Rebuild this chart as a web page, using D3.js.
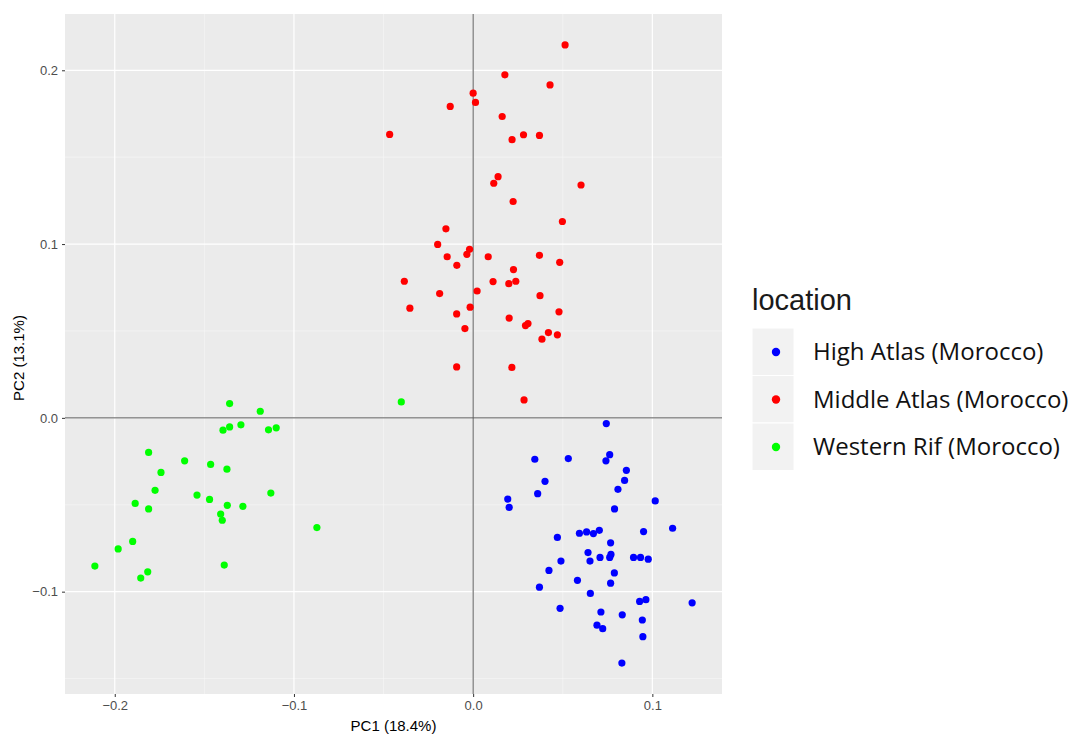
<!DOCTYPE html>
<html>
<head>
<meta charset="utf-8">
<script src="https://cdn.jsdelivr.net/npm/d3@7"></script>
<style>
	body { margin: 0; background: #ffffff; }
</style>
</head>
<body>
<div id="chart"></div>
<script>
// groups in legend order
var groups = ["High Atlas (Morocco)", "Middle Atlas (Morocco)", "Western Rif (Morocco)"];
var groupColors = ["#0000ff", "#ff0000", "#00ff00"];

// PCA scores [PC1, PC2] per group
var highAtlas = [
	[0.0743, -0.0033], [0.0344, -0.0238], [0.0531, -0.0234], [0.0762, -0.0212], [0.0741, -0.0247],
	[0.0855, -0.0302], [0.0845, -0.0360], [0.0401, -0.0365], [0.0360, -0.0436], [0.0808, -0.0411],
	[0.0193, -0.0467], [0.0201, -0.0515], [0.1016, -0.0478], [0.0789, -0.0524], [0.1113, -0.0635],
	[0.0951, -0.0654], [0.0470, -0.0688], [0.0593, -0.0664], [0.0633, -0.0656], [0.0671, -0.0666],
	[0.0704, -0.0647], [0.0767, -0.0719], [0.0641, -0.0775], [0.0490, -0.0824], [0.0652, -0.0824],
	[0.0708, -0.0803], [0.0762, -0.0803], [0.0769, -0.0786], [0.0895, -0.0803], [0.0934, -0.0803],
	[0.0977, -0.0813], [0.0423, -0.0878], [0.0788, -0.0892], [0.0582, -0.0935], [0.0370, -0.0974],
	[0.0767, -0.0951], [0.0654, -0.1010], [0.0929, -0.1056], [0.0964, -0.1046], [0.1222, -0.1064],
	[0.0485, -0.1096], [0.0713, -0.1117], [0.0832, -0.1133], [0.0944, -0.1163], [0.0691, -0.1193],
	[0.0723, -0.1213], [0.0947, -0.1259], [0.0830, -0.1411]
];
var middleAtlas = [
	[0.0513, 0.2146], [0.0177, 0.1974], [0.0429, 0.1916], [0.0000, 0.1868], [0.0013, 0.1815],
	[-0.0128, 0.1792], [0.0162, 0.1734], [-0.0466, 0.1631], [0.0217, 0.1601], [0.0281, 0.1629],
	[0.0370, 0.1625], [0.0139, 0.1388], [0.0115, 0.1350], [0.0602, 0.1340], [0.0223, 0.1245],
	[0.0498, 0.1130], [-0.0152, 0.1088], [-0.0198, 0.0998], [-0.0020, 0.0970], [-0.0035, 0.0941],
	[-0.0145, 0.0927], [0.0084, 0.0927], [0.0370, 0.0935], [0.0483, 0.0895], [-0.0091, 0.0878],
	[0.0225, 0.0853], [-0.0384, 0.0786], [0.0111, 0.0784], [0.0199, 0.0772], [0.0238, 0.0786],
	[-0.0187, 0.0715], [0.0022, 0.0730], [0.0373, 0.0703], [-0.0353, 0.0631], [-0.0017, 0.0637],
	[-0.0092, 0.0598], [0.0201, 0.0574], [0.0479, 0.0610], [-0.0046, 0.0514], [0.0292, 0.0531],
	[0.0306, 0.0543], [0.0420, 0.0491], [0.0470, 0.0478], [0.0384, 0.0453], [-0.0092, 0.0293],
	[0.0216, 0.0290], [0.0284, 0.0103]
];
var westernRif = [
	[-0.0401, 0.0092], [-0.1359, 0.0082], [-0.1188, 0.0038], [-0.1396, -0.0071], [-0.1359, -0.0052],
	[-0.1296, -0.0040], [-0.1142, -0.0069], [-0.1099, -0.0057], [-0.1811, -0.0199], [-0.1610, -0.0247],
	[-0.1465, -0.0268], [-0.1374, -0.0295], [-0.1742, -0.0314], [-0.1775, -0.0417], [-0.1541, -0.0444],
	[-0.1471, -0.0469], [-0.1129, -0.0433], [-0.1886, -0.0492], [-0.1811, -0.0524], [-0.1372, -0.0503],
	[-0.1285, -0.0509], [-0.1409, -0.0553], [-0.1400, -0.0589], [-0.0872, -0.0631], [-0.1900, -0.0711],
	[-0.1981, -0.0754], [-0.2111, -0.0853], [-0.1816, -0.0886], [-0.1855, -0.0922], [-0.1389, -0.0847]
];

var xTicks = [-0.2, -0.1, 0.0, 0.1];
var yTicks = [-0.1, 0.0, 0.1, 0.2];
var xMinor = [-0.15, -0.05, 0.05];
var yMinor = [-0.15, -0.05, 0.05, 0.15];
var xTitle = "PC1 (18.4%)";
var yTitle = "PC2 (13.1%)";
var legendTitle = "location";

var seriesArr = [highAtlas, middleAtlas, westernRif];
var allPts = [];
for (var s = 0; s < seriesArr.length; s++) {
	for (var i = 0; i < seriesArr[s].length; i++) {
		allPts.push({"x": seriesArr[s][i][0], "y": seriesArr[s][i][1], "group": s});
	}
}

var W = 1079, H = 734;
var panel = {left: 65, right: 722, top: 14, bottom: 694};

// ggplot style 5% expansion
function expand(ext) {
	var pad = (ext[1] - ext[0]) * 0.05;
	return [ext[0] - pad, ext[1] + pad];
}
var x = d3.scaleLinear()
	.domain(expand(d3.extent(allPts, d => d.x)))
	.range([panel.left, panel.right]);
var y = d3.scaleLinear()
	.domain(expand(d3.extent(allPts, d => d.y)))
	.range([panel.bottom, panel.top]);
var color = d3.scaleOrdinal().domain(d3.range(groups.length)).range(groupColors);
var fmt = function (v) { return d3.format(".1f")(v).replace("-", "\u2212"); };

var svg = d3.select("#chart").append("svg")
	.attr("width", W)
	.attr("height", H)
	.style("font-family", "'Liberation Sans', Arial, sans-serif");

svg.append("rect")
	.attr("x", panel.left).attr("y", panel.top)
	.attr("width", panel.right - panel.left)
	.attr("height", panel.bottom - panel.top)
	.attr("fill", "#ebebeb");

var grid = svg.append("g");
grid.selectAll(".vminor").data(xMinor).enter().append("line")
	.attr("x1", d => x(d)).attr("x2", d => x(d))
	.attr("y1", panel.top).attr("y2", panel.bottom)
	.attr("stroke", "#f7f7f7").attr("stroke-width", 0.6);
grid.selectAll(".hminor").data(yMinor).enter().append("line")
	.attr("y1", d => y(d)).attr("y2", d => y(d))
	.attr("x1", panel.left).attr("x2", panel.right)
	.attr("stroke", "#f7f7f7").attr("stroke-width", 0.6);
grid.selectAll(".vmajor").data(xTicks).enter().append("line")
	.attr("x1", d => x(d)).attr("x2", d => x(d))
	.attr("y1", panel.top).attr("y2", panel.bottom)
	.attr("stroke", "#ffffff").attr("stroke-width", 1.2);
grid.selectAll(".hmajor").data(yTicks).enter().append("line")
	.attr("y1", d => y(d)).attr("y2", d => y(d))
	.attr("x1", panel.left).attr("x2", panel.right)
	.attr("stroke", "#ffffff").attr("stroke-width", 1.2);

// reference lines at zero
svg.append("line")
	.attr("x1", x(0)).attr("x2", x(0))
	.attr("y1", panel.top).attr("y2", panel.bottom)
	.attr("stroke", "#5a5a5a").attr("stroke-width", 1);
svg.append("line")
	.attr("y1", y(0)).attr("y2", y(0))
	.attr("x1", panel.left).attr("x2", panel.right)
	.attr("stroke", "#5a5a5a").attr("stroke-width", 1);

svg.append("g")
	.selectAll("circle")
	.data(allPts)
	.enter()
	.append("circle")
		.attr("cx", d => x(d.x))
		.attr("cy", d => y(d.y))
		.attr("r", 3.6)
		.attr("fill", d => color(d.group));

// axes
var xAxis = svg.append("g")
	.attr("transform", "translate(0," + panel.bottom + ")")
	.call(d3.axisBottom(x).tickValues(xTicks).tickFormat(fmt).tickSize(3).tickPadding(4));
var yAxis = svg.append("g")
	.attr("transform", "translate(" + panel.left + ",0)")
	.call(d3.axisLeft(y).tickValues(yTicks).tickFormat(fmt).tickSize(3).tickPadding(4));
[xAxis, yAxis].forEach(function (a) {
	a.select(".domain").remove();
	a.selectAll(".tick line").attr("stroke", "#333333");
	a.selectAll(".tick text")
		.attr("fill", "#4d4d4d")
		.attr("font-size", "13px")
		.attr("font-family", "'Liberation Sans', Arial, sans-serif");
});

svg.append("text")
	.attr("x", (panel.left + panel.right) / 2)
	.attr("y", 731)
	.attr("text-anchor", "middle")
	.attr("font-size", "15px")
	.attr("fill", "#000000")
	.text(xTitle);
svg.append("text")
	.attr("transform", "translate(24," + ((panel.top + panel.bottom) / 2 + 4) + ") rotate(-90)")
	.attr("text-anchor", "middle")
	.attr("font-size", "15px")
	.attr("fill", "#000000")
	.text(yTitle);

// legend
var lg = svg.append("g").attr("transform", "translate(752,0)");
lg.append("text")
	.attr("x", 0)
	.attr("y", 310)
	.attr("font-size", "29px")
	.attr("fill", "#1a1a1a")
	.text(legendTitle);
var keyH = 47.5, keyTop = 328;
for (var k = 0; k < groups.length; k++) {
	lg.append("rect")
		.attr("x", 0).attr("y", keyTop + k * keyH)
		.attr("width", 42).attr("height", keyH)
		.attr("fill", "#f2f2f2")
		.attr("stroke", "#ffffff").attr("stroke-width", 1);
	lg.append("circle")
		.attr("cx", 24).attr("cy", keyTop + k * keyH + 24)
		.attr("r", 4.2)
		.attr("fill", groupColors[k]);
	lg.append("text")
		.attr("x", 61)
		.attr("y", keyTop + k * keyH + 32)
		.attr("font-family", "'Open Sans', 'Noto Sans', sans-serif")
		.attr("font-size", "24px")
		.attr("fill", "#111111")
		.text(groups[k]);
}
</script>
</body>
</html>
